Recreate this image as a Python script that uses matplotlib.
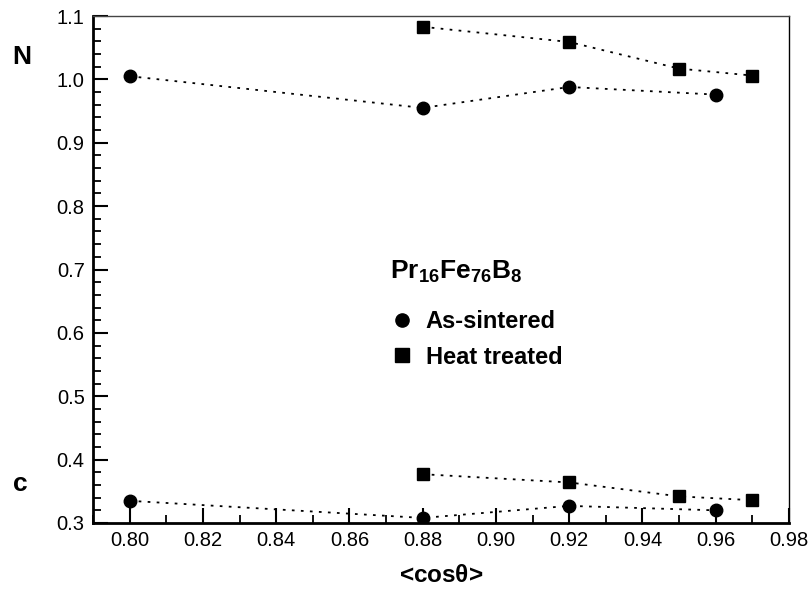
import matplotlib
matplotlib.use("Agg")
import matplotlib.pyplot as plt
from matplotlib.lines import Line2D
from matplotlib.ticker import MultipleLocator

plt.rcParams['font.family'] = ['Liberation Sans', 'DejaVu Sans']
plt.rcParams['mathtext.fontset'] = 'custom'
plt.rcParams['mathtext.rm'] = 'Liberation Sans'
plt.rcParams['mathtext.bf'] = 'Liberation Sans:bold'

# data
cos_sint = [0.80, 0.88, 0.92, 0.96]
N_sint = [1.005, 0.955, 0.988, 0.976]
c_sint = [0.335, 0.308, 0.327, 0.320]

cos_heat = [0.88, 0.92, 0.95, 0.97]
N_heat = [1.083, 1.059, 1.017, 1.006]
c_heat = [0.377, 0.364, 0.342, 0.336]

fig = plt.figure(figsize=(8.12, 5.89), dpi=100)
ax = fig.add_axes([93 / 812, 1 - 523 / 589, 696 / 812, 507 / 589])

mk = dict(color='black', linestyle=(0, (1.5, 3.5)), linewidth=1.3)
ax.plot(cos_sint, N_sint, marker='o', markersize=9, **mk)
ax.plot(cos_sint, c_sint, marker='o', markersize=9, **mk)
ax.plot(cos_heat, N_heat, marker='s', markersize=8.5, **mk)
ax.plot(cos_heat, c_heat, marker='s', markersize=8.5, **mk)

ax.set_xlim(0.79, 0.98)
ax.set_ylim(0.3, 1.1)
ax.xaxis.set_minor_locator(MultipleLocator(0.01))
ax.yaxis.set_minor_locator(MultipleLocator(0.02))
ax.set_xticks([0.80, 0.82, 0.84, 0.86, 0.88, 0.90, 0.92, 0.94, 0.96, 0.98])
ax.set_xticklabels(['0.80', '0.82', '0.84', '0.86', '0.88', '0.90', '0.92', '0.94', '0.96', '0.98'])
ax.set_yticks([0.3, 0.4, 0.5, 0.6, 0.7, 0.8, 0.9, 1.0, 1.1])
ax.set_yticklabels(['0.3', '0.4', '0.5', '0.6', '0.7', '0.8', '0.9', '1.0', '1.1'])
ax.tick_params(which='major', direction='in', length=11, width=1.5, labelsize=14.5, pad=6)
ax.tick_params(which='minor', direction='in', length=6, width=1.3)
ax.tick_params(top=False, right=False, which='both')
ax.spines['left'].set_linewidth(2)
ax.spines['bottom'].set_linewidth(2)
ax.spines['top'].set_linewidth(1)
ax.spines['right'].set_linewidth(1)
ax.spines['top'].set_color('#444444')

ax.set_xlabel(r'<cos$\mathbf{\theta}$>', fontsize=17.5, fontweight='bold', labelpad=10)
fig.text(22 / 812, 1 - 57 / 589, 'N', fontsize=19, fontweight='bold', ha='center', va='center')
fig.text(20 / 812, 1 - 484 / 589, 'c', fontsize=19, fontweight='bold', ha='center', va='center')

ax.text(0.427, 0.495, r'$\mathbf{Pr_{16}Fe_{76}B_8}$', transform=ax.transAxes,
        fontsize=19, ha='left', va='center')

handles = [Line2D([], [], color='black', marker='o', linestyle='none', markersize=9.5),
           Line2D([], [], color='black', marker='s', linestyle='none', markersize=9.5)]
leg = ax.legend(handles, ['As-sintered', 'Heat treated'], loc='upper left',
                bbox_to_anchor=(0.427, 0.42), frameon=False, handletextpad=0.5,
                labelspacing=0.53, prop={'weight': 'bold', 'size': 17},
                handlelength=1.0, borderpad=0, borderaxespad=0)

fig.savefig('out.png', dpi=100)
